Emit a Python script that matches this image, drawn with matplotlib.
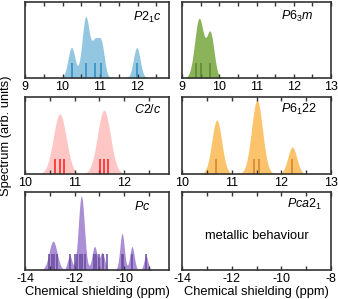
import numpy as np
import matplotlib.pyplot as plt
from matplotlib.ticker import MultipleLocator

plt.rcParams['font.family'] = ['Liberation Sans', 'DejaVu Sans']
plt.rcParams['mathtext.fontset'] = 'custom'
plt.rcParams['mathtext.it'] = 'Liberation Sans:italic'
plt.rcParams['mathtext.rm'] = 'Liberation Sans'
plt.rcParams['axes.unicode_minus'] = False

# P2_1c  (sticks = computed shieldings, peaks = broadened spectrum)
p21c_sticks = [10.24, 10.62, 10.86, 11.03, 11.98]
p21c_pos = [10.24, 10.62, 10.86, 11.03, 11.98]
p21c_hgt = [0.40, 0.80, 0.42, 0.45, 0.40]
p21c_wid = [0.095, 0.10, 0.085, 0.085, 0.09]

# P6_3m
p63m_sticks = [9.38, 9.51, 9.76]
p63m_pos = [9.46, 9.76]
p63m_hgt = [0.78, 0.58]
p63m_wid = [0.12, 0.10]

# C2/c
c2c_sticks = [10.61, 10.70, 10.79, 11.51, 11.60, 11.68]
c2c_pos = [10.70, 11.59]
c2c_hgt = [0.78, 0.83]
c2c_wid = [0.13, 0.13]

# P6_122
p6122_sticks = [10.69, 11.45, 11.55, 12.22]
p6122_pos = [10.70, 11.51, 12.22]
p6122_hgt = [0.70, 0.96, 0.35]
p6122_wid = [0.10, 0.11, 0.09]

# Pc
pc_sticks = [-13.03, -12.93, -12.83, -12.70, -12.20, -12.00, -11.91, -11.80,
             -11.69, -11.59, -11.23, -11.13, -11.00, -10.84, -10.71,
             -10.11, -10.04, -9.69, -9.13]
pc_pos = [-12.87, -12.20, -11.73, -11.20, -10.89, -10.09, -9.69, -9.13]
pc_hgt = [0.37, 0.18, 0.95, 0.30, 0.22, 0.47, 0.30, 0.18]
pc_wid = [0.16, 0.09, 0.12, 0.10, 0.10, 0.09, 0.09, 0.08]

W, H = 338, 299
fig = plt.figure(figsize=(W / 100, H / 100), dpi=100)


def box(x0, x1, ytop, ybot):
    return [x0 / W, 1 - ybot / H, (x1 - x0) / W, (ybot - ytop) / H]


def spectrum(ax, sticks, pos, hgt, wid, fill, dark, xlim):
    x = np.linspace(xlim[0], xlim[1], 1500)
    y = np.zeros_like(x)
    for p, h, w in zip(pos, hgt, wid):
        y += h * np.exp(-(x - p) ** 2 / (2 * w ** 2))
    ax.fill_between(x, 0, y, color=fill, lw=0)
    ax.vlines(sticks, 0, 0.2, color=dark, lw=1.1)


def style(ax, xlim, major, minor):
    ax.set_xlim(*xlim)
    ax.set_ylim(0, 1)
    ax.set_yticks([])
    ax.xaxis.set_major_locator(MultipleLocator(major))
    ax.xaxis.set_minor_locator(MultipleLocator(minor))
    ax.tick_params(axis='x', which='both', direction='in', top=True, bottom=True,
                   length=3, width=1, labelsize=9, pad=2, color='#333333')
    for s in ax.spines.values():
        s.set_linewidth(1.2)
        s.set_color('#333333')


def label(ax, txt, x, y):
    ax.text(x, y, txt, transform=ax.transAxes, ha='right', va='baseline', fontsize=9)


ax1 = fig.add_axes(box(25, 169, 2, 78))
spectrum(ax1, p21c_sticks, p21c_pos, p21c_hgt, p21c_wid, '#93c6e1', '#2b8cc3', (9, 12.84))
style(ax1, (9, 12.84), 1, 0.5)
label(ax1, r'$\mathit{P2_1c}$', 0.95, 0.75)

ax2 = fig.add_axes(box(182, 331, 2, 78))
spectrum(ax2, p63m_sticks, p63m_pos, p63m_hgt, p63m_wid, '#8bb35a', '#5d8735', (9, 13))
style(ax2, (9, 13), 1, 0.5)
label(ax2, r'$\mathit{P6_3m}$', 0.88, 0.76)

ax3 = fig.add_axes(box(25, 169, 97, 174))
spectrum(ax3, c2c_sticks, c2c_pos, c2c_hgt, c2c_wid, '#ffc6c6', '#ff1a1a', (10, 12.9))
style(ax3, (10, 12.9), 1, 0.5)
label(ax3, r'$\mathit{C2/c}$', 0.95, 0.79)

ax4 = fig.add_axes(box(182, 331, 97, 174))
spectrum(ax4, p6122_sticks, p6122_pos, p6122_hgt, p6122_wid, '#fbc46c', '#d7802a', (10, 13))
style(ax4, (10, 13), 1, 0.5)
label(ax4, r'$\mathit{P6_122}$', 0.905, 0.79)

ax5 = fig.add_axes(box(25, 169, 192, 270))
spectrum(ax5, pc_sticks, pc_pos, pc_hgt, pc_wid, '#aa8fd6', '#6a4b9e', (-14, -8.2))
style(ax5, (-14, -8.2), 2, 1)
label(ax5, r'$\mathit{Pc}$', 0.87, 0.77)
ax5.set_xlabel('Chemical shielding (ppm)', fontsize=9.3, labelpad=1)

ax6 = fig.add_axes(box(182, 331, 192, 270))
style(ax6, (-14, -8), 2, 1)
label(ax6, r'$\mathit{Pca2_1}$', 0.94, 0.79)
ax6.text(0.5, 0.44, 'metallic behaviour', transform=ax6.transAxes,
         ha='center', va='center', fontsize=9.3)
ax6.set_xlabel('Chemical shielding (ppm)', fontsize=9.3, labelpad=1)

fig.text(6 / W, 1 - 136 / H, 'Spectrum (arb. units)', rotation=90,
         ha='center', va='center', fontsize=9.3)

fig.savefig('out.png', dpi=100)
